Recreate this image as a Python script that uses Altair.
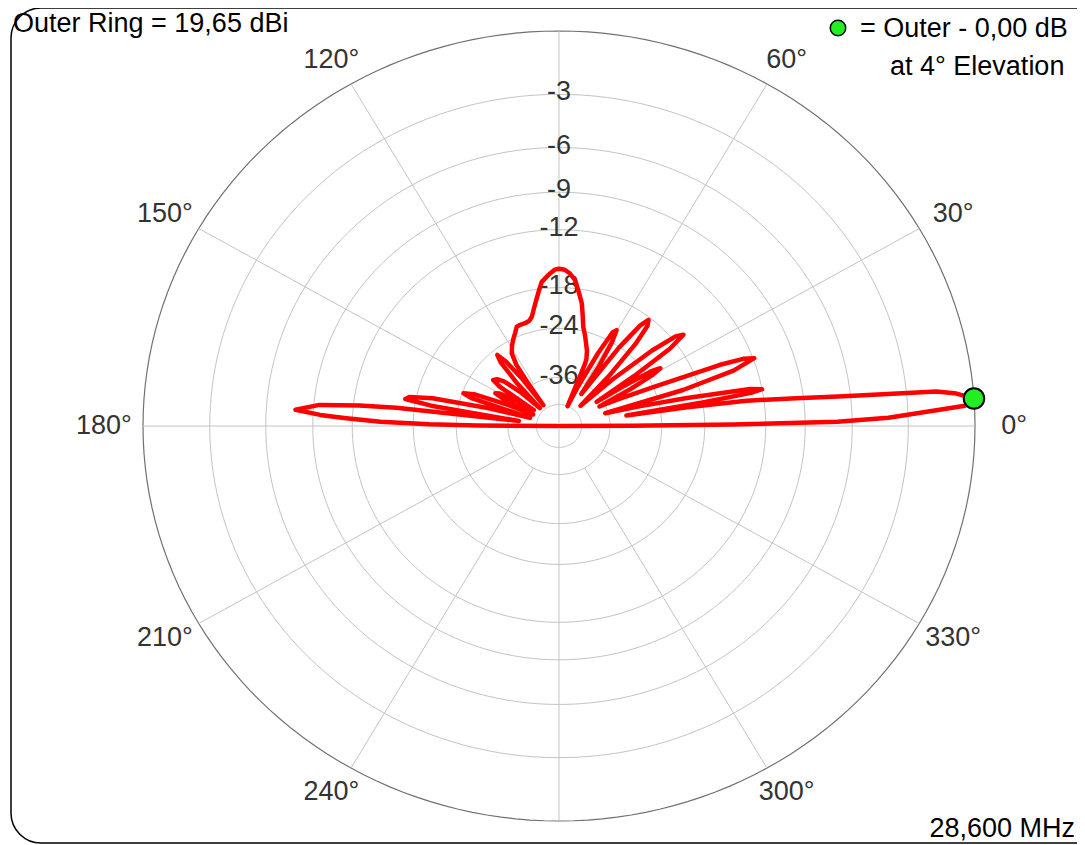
import altair as alt
import pandas as pd

# ---- pattern data (elevation angle in degrees, relative gain in dB) ----
elev = [0, 0.2, 0.5, 0.93, 1.5, 2.35, 3.0, 4.0, 5.0, 5.5, 6.3, 7.0, 7.6, 8.1, 8.8, 9.4,
        9.8, 10.3, 10.8, 11.5, 13.0, 14.5, 16.2,
        17.0, 18.5, 20.1, 21.0, 21.8, 23.5, 25.5, 27.0,
        28.5, 30.0, 31.0, 32.0, 33.0, 34.0,
        35.0, 36.3, 37.7, 39.0, 40.5, 42.5, 44.5,
        46.5, 48.5, 50.0, 51.3, 52.5, 54.0, 56.5,
        57.5, 59.0, 60.3, 61.5, 63.0, 65.5, 67.8,
        68.3, 68.6, 70.5, 72.8, 75.0, 76.9, 78.5, 80.0, 82.3, 84.0, 86.1, 88.0, 90.0,
        91.5, 93.2, 95.0, 96.5, 98.0, 99.8, 101.5, 103.3, 105.0, 107.4, 110.0, 112.0,
        114.0, 116.3, 119.0, 121.7, 123.5, 124.5, 125.5,
        126.5, 128.0, 129.5, 131.0, 133.0, 135.5,
        137.0, 139.5, 141.5, 143.6, 145.0, 146.5,
        148.0, 150.0, 151.5, 153.0, 155.0,
        156.5, 158.5, 160.2, 161.5, 163.5,
        165.0, 167.0, 168.5, 169.5, 170.5, 172.5,
        173.3, 173.8, 174.7, 176.3, 177.2, 177.8, 178.6, 179.2, 179.6, 180.0]
gain_db = [-99, -30, -15, -6.9, -4.0, -2.1, -0.4, 0.0, -0.8, -1.6, -6.4, -9.5, -11.8, -13.5, -20, -31,
           -18, -13, -12.0, -13, -20, -28, -37,
           -20, -14, -11.9, -12.8, -15, -24, -32, -38,
           -28, -23, -21.6, -23, -29, -38,
           -26, -19, -16.7, -17.5, -21, -30, -45,
           -30, -22, -19, -18.3, -19.5, -24, -40,
           -30, -24, -21.9, -22.5, -27, -38, -50,
           -31, -29.4, -27.5, -26, -24.5, -23.3, -21.5, -19.8, -18.2, -17, -16.3, -15.9, -15.8,
           -15.9, -16.3, -16.8, -17.2, -18.2, -19.4, -20.5, -21.6, -22.1, -22.3, -22.3, -22.4,
           -23.2, -24, -25, -26.3, -28.9, -35, -47,
           -33, -27, -25, -26.5, -33, -47,
           -36, -30, -28.5, -27.9, -30, -45,
           -36, -31, -30, -33, -46,
           -34, -26, -24.2, -26, -45,
           -30, -20, -17.2, -16.8, -20, -40,
           -16, -12.5, -9.4, -7.8, -9.5, -11.5, -14.5, -20, -28, -99]

peak_elev = [4]
peak_db = [0]

ring_db = [-3, -6, -9, -12, -18, -24, -36, -50]
outer_db = [0]
ring_label_db = [-3, -6, -9, -12, -18, -24, -36]
spoke_deg = [30, 60, 120, 150, 210, 240, 300, 330]
axis_deg = [0, 90, 180, 270]
angle_label_deg = [0, 30, 60, 120, 150, 180, 210, 240, 300, 330]

title_text = "Outer Ring = 19,65 dBi"
legend_line1 = "= Outer - 0,00 dB"
legend_line2 = "at 4\u00b0 Elevation"
freq_text = "28,600 MHz"

# ---- layout (plot coords = page coords - 8) ----
W, H = 1069, 837
CX, CY = 551, 418
RX, RY = 416, 395
FONT = "Liberation Sans"
FS = 27

xs = alt.Scale(domain=[-CX / RX, (W - CX) / RX], nice=False, zero=False)
ys = alt.Scale(domain=[-(H - CY) / RY, CY / RY], nice=False, zero=False)

R_EXPR = "pow(0.89, -datum.db/2)"


def X(f="u"):
    return alt.X(f"{f}:Q", scale=xs, axis=None)


def Y(f="v"):
    return alt.Y(f"{f}:Q", scale=ys, axis=None)


angs = list(range(0, 361, 2))
ring_df = pd.DataFrame([(d, a) for d in ring_db for a in angs], columns=["db", "ang"])
outer_df = pd.DataFrame([(d, a) for d in outer_db for a in angs], columns=["db", "ang"])

rings = alt.Chart(ring_df).transform_calculate(
    r=R_EXPR,
    u="datum.r*cos(datum.ang*PI/180)",
    v="datum.r*sin(datum.ang*PI/180)",
).mark_line(color="#C4C4C4", strokeWidth=1).encode(
    x=X(), y=Y(), detail="db:N", order="ang:Q")

outer = alt.Chart(outer_df).transform_calculate(
    r=R_EXPR,
    u="datum.r*cos(datum.ang*PI/180)",
    v="datum.r*sin(datum.ang*PI/180)",
).mark_line(color="#707070", strokeWidth=1.2).encode(
    x=X(), y=Y(), detail="db:N", order="ang:Q")

spokes = alt.Chart(pd.DataFrame({"ang": spoke_deg})).transform_calculate(
    r0="pow(0.89, 18)",
    u="datum.r0*cos(datum.ang*PI/180)",
    v="datum.r0*sin(datum.ang*PI/180)",
    u2="cos(datum.ang*PI/180)",
    v2="sin(datum.ang*PI/180)",
).mark_rule(color="#C4C4C4", strokeWidth=1).encode(
    x=X(), y=Y(), x2="u2:Q", y2="v2:Q")

axes = alt.Chart(pd.DataFrame({"ang": axis_deg})).transform_calculate(
    u="0", v="0",
    u2="cos(datum.ang*PI/180)",
    v2="sin(datum.ang*PI/180)",
).mark_rule(color="#C4C4C4", strokeWidth=1).encode(
    x=X(), y=Y(), x2="u2:Q", y2="v2:Q")

ring_labels = alt.Chart(pd.DataFrame({"db": ring_label_db})).transform_calculate(
    r=R_EXPR, u="0", v="datum.r", label="'' + datum.db",
).mark_text(font=FONT, fontSize=FS, color="#333333", baseline="middle", dy=-2).encode(
    x=X(), y=Y(), text="label:N")

angle_labels = alt.Chart(pd.DataFrame({"ang": angle_label_deg})).transform_calculate(
    u="1.094*cos(datum.ang*PI/180)",
    v="1.071*sin(datum.ang*PI/180)",
    label="datum.ang + '\u00b0'",
).mark_text(font=FONT, fontSize=FS, color="#333333", baseline="middle").encode(
    x=X(), y=Y(), text="label:N")

pat_df = pd.DataFrame({"elev": elev, "db": gain_db, "i": range(len(elev))})
pattern = alt.Chart(pat_df).transform_calculate(
    r=R_EXPR,
    u="datum.r*cos(datum.elev*PI/180)",
    v="datum.r*sin(datum.elev*PI/180)",
).mark_line(color="#FF0000", strokeWidth=4.5, strokeJoin="round", strokeCap="round").encode(
    x=X(), y=Y(), order="i:Q")

peak = alt.Chart(pd.DataFrame({"elev": peak_elev, "db": peak_db})).transform_calculate(
    r=R_EXPR,
    u="datum.r*cos(datum.elev*PI/180)",
    v="datum.r*sin(datum.elev*PI/180)",
).mark_point(shape="circle", filled=True, fill="#22EE22", stroke="black",
             strokeWidth=2, size=420, opacity=1).encode(x=X(), y=Y())

one = pd.DataFrame({"k": [0]})
title = alt.Chart(one).mark_text(font=FONT, fontSize=FS, color="black", align="left",
                                 baseline="alphabetic", text=title_text).encode(
    x=alt.value(5), y=alt.value(24))
leg1 = alt.Chart(one).mark_text(font=FONT, fontSize=FS, color="black", align="left",
                                baseline="alphabetic", text=legend_line1).encode(
    x=alt.value(852), y=alt.value(29))
leg2 = alt.Chart(one).mark_text(font=FONT, fontSize=FS, color="black", align="left",
                                baseline="alphabetic", text=legend_line2).encode(
    x=alt.value(882), y=alt.value(67))
leg_dot = alt.Chart(one).mark_point(shape="circle", filled=True, fill="#22EE22", stroke="black",
                                    strokeWidth=1.5, size=240, opacity=1).encode(
    x=alt.value(830), y=alt.value(20))
freq = alt.Chart(one).mark_text(font=FONT, fontSize=FS, color="black", align="right",
                                baseline="alphabetic", text=freq_text).encode(
    x=alt.value(1067), y=alt.value(829))
frame = alt.Chart(one).mark_rect(filled=False, stroke="black", strokeWidth=1.5,
                                 cornerRadius=30).encode(
    x=alt.value(3), x2=alt.value(1100), y=alt.value(0), y2=alt.value(835))

chart = alt.layer(
    rings, outer, axes, spokes, ring_labels, angle_labels, pattern, peak,
    title, leg1, leg2, leg_dot, freq, frame
).properties(
    width=W, height=H, padding=0, autosize="none", background="white"
).configure_view(stroke=None)

chart.save("out.html", embed_options={"renderer": "svg", "actions": False})
